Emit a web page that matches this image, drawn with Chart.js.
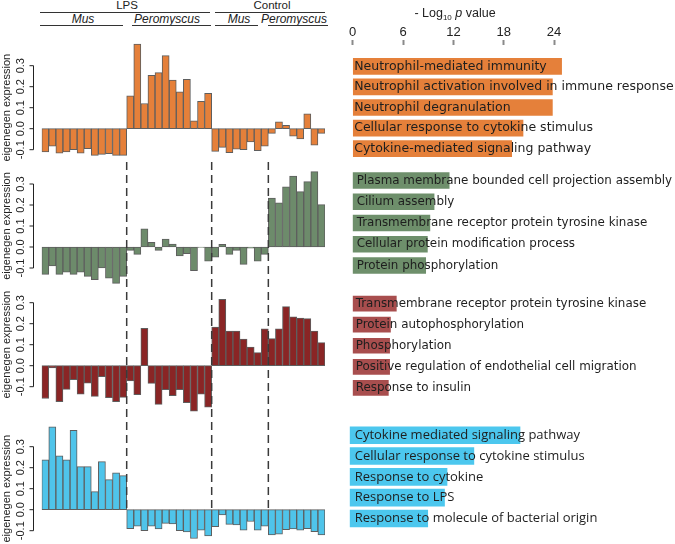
<!DOCTYPE html>
<html>
<head>
<meta charset="utf-8">
<script src="https://cdn.jsdelivr.net/npm/chart.js@4"></script>
<style>
  body { margin: 0; background: #fff; }
  #figure { position: relative; width: 675px; height: 544px; overflow: hidden; font-family: "Liberation Sans", Arial, sans-serif; color: #222; }
  .box { position: absolute; }
  .lbl { position: absolute; white-space: nowrap; transform: translateX(-50%); }
  .rule { position: absolute; height: 0; border-top: 1.2px solid #333; }
</style>
</head>
<body>
<div id="figure">
  <div class="box" style="left:0;top:30px"><canvas id="mod1" width="340" height="133"></canvas></div>
  <div class="box" style="left:0;top:163px"><canvas id="mod2" width="340" height="128"></canvas></div>
  <div class="box" style="left:0;top:291px"><canvas id="mod3" width="340" height="127"></canvas></div>
  <div class="box" style="left:0;top:418px"><canvas id="mod4" width="340" height="126"></canvas></div>

  <div class="box" style="left:340px;top:0"><canvas id="go1" width="335" height="160"></canvas></div>
  <div class="box" style="left:340px;top:163px"><canvas id="go2" width="335" height="118"></canvas></div>
  <div class="box" style="left:340px;top:285px"><canvas id="go3" width="335" height="118"></canvas></div>
  <div class="box" style="left:337px;top:418px"><canvas id="go4" width="338" height="126"></canvas></div>

  <div class="lbl" style="left:127px;top:-1px;font-size:11.5px;line-height:12px">LPS</div>
  <div class="lbl" style="left:272px;top:-1px;font-size:11.5px;line-height:12px">Control</div>
  <div class="rule" style="left:40px;top:12px;width:170px"></div>
  <div class="rule" style="left:215px;top:12px;width:110px"></div>
  <div class="lbl" style="left:83px;top:12.5px;font-size:12px;line-height:12px;font-style:italic">Mus</div>
  <div class="lbl" style="left:167px;top:12.5px;font-size:12px;line-height:12px;font-style:italic">Peromyscus</div>
  <div class="lbl" style="left:239px;top:12.5px;font-size:12px;line-height:12px;font-style:italic">Mus</div>
  <div class="lbl" style="left:294px;top:12.5px;font-size:12px;line-height:12px;font-style:italic">Peromyscus</div>
  <div class="rule" style="left:40px;top:25px;width:83px"></div>
  <div class="rule" style="left:132px;top:25px;width:79px"></div>
  <div class="rule" style="left:215px;top:25px;width:43px"></div>
  <div class="rule" style="left:268px;top:25px;width:60px"></div>

  <div class="lbl" style="left:455px;top:6.5px;font-size:12.5px;line-height:13px">- Log<span style="font-size:8px;position:relative;top:3px">10</span> <i>p</i> value</div>
</div>

<script>
// sample groups along the x axis of the module panels
const groupNames = ["Mus LPS", "Peromyscus LPS", "Mus Control", "Peromyscus Control"];
const groupSizes = [12, 12, 8, 8];
const samples = groupNames.flatMap((g, i) => Array.from({ length: groupSizes[i] }, (_, k) => `${g} ${k + 1}`));

// eigengene expression per sample, one array per module
const orangeModule = [
  -0.11, -0.083, -0.117, -0.11, -0.10, -0.117, -0.095, -0.127, -0.122, -0.119, -0.127, -0.127,
  0.156, 0.403, 0.12, 0.254, 0.267, 0.348, 0.232, 0.175, 0.235, 0.038, 0.13, 0.168,
  -0.108, -0.089, -0.114, -0.098, -0.1, -0.063, -0.105, -0.083,
  -0.022, 0.033, 0.016, -0.035, -0.049, 0.071, -0.079, -0.022,
];
const greenModule = [
  -0.13, -0.09, -0.13, -0.12, -0.13, -0.12, -0.14, -0.155, -0.10, -0.148, -0.173, -0.14,
  -0.016, -0.035, 0.086, 0.022, -0.016, 0.038, 0.014, -0.043, -0.032, -0.113, -0.002, -0.068,
  -0.048, 0.013, -0.035, -0.016, -0.083, -0.006, -0.068, -0.035,
  0.233, 0.21, 0.286, 0.338, 0.264, 0.311, 0.359, 0.202,
];
const redModule = [
  -0.156, -0.01, -0.171, -0.113, -0.067, -0.135, -0.083, -0.146, -0.052, -0.152, -0.171, -0.151,
  -0.073, -0.138, 0.178, -0.084, -0.184, -0.114, -0.143, -0.114, -0.176, -0.216, -0.135, -0.198,
  0.184, 0.316, 0.165, 0.165, 0.127, 0.089, 0.062, 0.175,
  0.129, 0.175, 0.281, 0.233, 0.227, 0.224, 0.165, 0.11,
];
const blueModule = [
  0.237, 0.395, 0.256, 0.237, 0.378, 0.205, 0.205, 0.086, 0.229, 0.143, 0.176, 0.162,
  -0.09, -0.079, -0.10, -0.078, -0.092, -0.065, -0.068, -0.10, -0.106, -0.137, -0.097, -0.125,
  -0.081, -0.025, -0.07, -0.073, -0.097, -0.056, -0.097, -0.079,
  -0.12, -0.117, -0.095, -0.092, -0.098, -0.09, -0.105, -0.12,
];

const yTickValues = [-0.1, 0, 0.1, 0.2, 0.3];
const yTickLabels = ["-0.1", "0.0", "0.1", "0.2", "0.3"];

// GO terms and -log10 p values
const xTickValues = [0, 6, 12, 18, 24];
const orangeTerms = [
  "Neutrophil-mediated immunity",
  "Neutrophil activation involved in immune response",
  "Neutrophil degranulation",
  "Cellular response to cytokine stimulus",
  "Cytokine-mediated signaling pathway",
];
const orangeLogP = [24.9, 23.8, 23.8, 20.3, 18.95];
const greenTerms = [
  "Plasma membrane bounded cell projection assembly",
  "Cilium assembly",
  "Transmembrane receptor protein tyrosine kinase",
  "Cellular protein modification process",
  "Protein phosphorylation",
];
const greenLogP = [11.5, 9.7, 9.2, 8.9, 8.7];
const redTerms = [
  "Transmembrane receptor protein tyrosine kinase",
  "Protein autophosphorylation",
  "Phosphorylation",
  "Positive regulation of endothelial cell migration",
  "Response to insulin",
];
const redLogP = [5.2, 4.5, 4.4, 4.4, 4.25];
const blueTerms = [
  "Cytokine mediated signaling pathway",
  "Cellular response to cytokine stimulus",
  "Response to cytokine",
  "Response to LPS",
  "Response to molecule of bacterial origin",
];
const blueLogP = [20.3, 14.8, 11.6, 11.3, 9.3];

const PX_PER_UNIT_Y = 210;
const PX_PER_UNIT_X = 8.39;
const DASH_START = 162;
const DASH_END = 512;

// R-style left axis: line only over the tick range, rotated labels
const rAxis = {
  id: "rAxis",
  afterDraw(chart) {
    const { ctx } = chart;
    const y = chart.scales.y;
    const axisX = 33.5;
    ctx.save();
    ctx.strokeStyle = "#222";
    ctx.lineWidth = 1;
    ctx.beginPath();
    ctx.moveTo(axisX, y.getPixelForValue(yTickValues[0]));
    ctx.lineTo(axisX, y.getPixelForValue(yTickValues[yTickValues.length - 1]));
    yTickValues.forEach((v) => {
      const py = y.getPixelForValue(v);
      ctx.moveTo(axisX, py);
      ctx.lineTo(axisX - 4, py);
    });
    ctx.stroke();

    ctx.fillStyle = "#222";
    ctx.textAlign = "center";
    ctx.textBaseline = "middle";
    ctx.font = "11px 'Liberation Sans'";
    yTickValues.forEach((v, i) => {
      ctx.save();
      ctx.translate(21, y.getPixelForValue(v));
      ctx.rotate(-Math.PI / 2);
      ctx.fillText(yTickLabels[i], 0, 0);
      ctx.restore();
    });
    ctx.translate(7, y.getPixelForValue(0.1));
    ctx.rotate(-Math.PI / 2);
    ctx.fillText("eigenegen expression", 0, 0);
    ctx.restore();
  },
};

// dashed separators between sample groups
const groupDashes = {
  id: "groupDashes",
  afterDatasetsDraw(chart, args, opts) {
    const { ctx } = chart;
    const x = chart.scales.x;
    const y0 = Math.max(0, DASH_START - opts.canvasTop);
    const y1 = Math.min(chart.height, DASH_END - opts.canvasTop);
    if (y1 <= y0) return;
    ctx.save();
    ctx.strokeStyle = "#3a3a3a";
    ctx.lineWidth = 1.5;
    ctx.setLineDash([8, 5]);
    ctx.lineDashOffset = opts.canvasTop + y0 - DASH_START;
    let idx = 0;
    groupSizes.slice(0, -1).forEach((n) => {
      idx += n;
      const px = (x.getPixelForValue(idx - 1) + x.getPixelForValue(idx)) / 2;
      ctx.beginPath();
      ctx.moveTo(px, y0);
      ctx.lineTo(px, y1);
      ctx.stroke();
    });
    ctx.restore();
  },
};

function makeModuleChart(id, values, color, top, zero) {
  const canvas = document.getElementById(id);
  const bottom = top + canvas.height;
  new Chart(canvas, {
    type: "bar",
    data: {
      labels: samples,
      datasets: [
        {
          data: values,
          backgroundColor: color,
          borderColor: "#5e5e5e",
          borderWidth: 1,
          borderSkipped: false,
          barPercentage: 1,
          categoryPercentage: 1,
        },
      ],
    },
    options: {
      responsive: false,
      animation: false,
      layout: { padding: { left: 41.7, right: 15, top: 0, bottom: 0 } },
      plugins: {
        legend: { display: false },
        tooltip: { enabled: false },
        groupDashes: { canvasTop: top },
      },
      scales: {
        x: { display: false },
        y: {
          display: false,
          min: -(bottom - zero) / PX_PER_UNIT_Y,
          max: (zero - top) / PX_PER_UNIT_Y,
        },
      },
    },
    plugins: [rAxis, groupDashes],
  });
}

function makeTermChart(id, terms, logP, color, cfg) {
  const canvas = document.getElementById(id);
  const padLeft = 12.7;
  new Chart(canvas, {
    type: "bar",
    data: {
      labels: terms,
      datasets: [{ data: logP, backgroundColor: color, barThickness: cfg.thickness }],
    },
    options: {
      indexAxis: "y",
      responsive: false,
      animation: false,
      layout: { padding: { left: padLeft, right: 0, top: cfg.padTop, bottom: cfg.padBottom } },
      plugins: { legend: { display: false }, tooltip: { enabled: false } },
      scales: {
        x: {
          position: "top",
          display: !!cfg.showAxis,
          min: 0,
          max: (canvas.width - padLeft) / PX_PER_UNIT_X,
          afterBuildTicks: (s) => {
            s.ticks = xTickValues.map((v) => ({ value: v }));
          },
          afterFit: (s) => {
            if (cfg.showAxis) s.height = 55;
            s.paddingLeft = 0;
            s.paddingRight = 0;
          },
          border: { display: false },
          grid: {
            drawOnChartArea: false,
            tickLength: 16,
            tickWidth: 2,
            tickColor: "#8a8a8a",
            tickBorderDash: [5, 30],
          },
          ticks: {
            padding: 0,
            maxRotation: 0,
            color: "#222",
            font: { family: "Liberation Sans", size: 13 },
          },
        },
        y: {
          afterFit: (s) => {
            s.width = 0;
            s.paddingTop = 0;
            s.paddingBottom = 0;
          },
          border: { display: false },
          grid: { display: false },
          ticks: {
            mirror: true,
            padding: cfg.labelPad,
            z: 1,
            color: "#1e1e1e",
            font: { family: cfg.font, size: cfg.fontSize },
          },
        },
      },
    },
  });
}

makeModuleChart("mod1", orangeModule, "#E5803A", 30, 128.7);
makeModuleChart("mod2", greenModule, "#6D8B6B", 163, 247);
makeModuleChart("mod3", redModule, "#8A2525", 291, 365.7);
makeModuleChart("mod4", blueModule, "#4FC4EA", 418, 509.7);

makeTermChart("go1", orangeTerms, orangeLogP, "#E5803A", {
  showAxis: true, padTop: 1, padBottom: 1, thickness: 16, labelPad: 1.5, font: "DejaVu Sans", fontSize: 12.5,
});
makeTermChart("go2", greenTerms, greenLogP, "#6E8F6B", {
  padTop: 6.9, padBottom: 4.9, thickness: 16, labelPad: 4, font: "DejaVu Sans", fontSize: 11.9,
});
makeTermChart("go3", redTerms, redLogP, "#A84E4E", {
  padTop: 8, padBottom: 4.5, thickness: 15, labelPad: 3, font: "DejaVu Sans", fontSize: 11.9,
});
makeTermChart("go4", blueTerms, blueLogP, "#4CC7EE", {
  padTop: 6.8, padBottom: 15.1, thickness: 17, labelPad: 5, font: "Open Sans", fontSize: 13,
});
</script>
</body>
</html>
